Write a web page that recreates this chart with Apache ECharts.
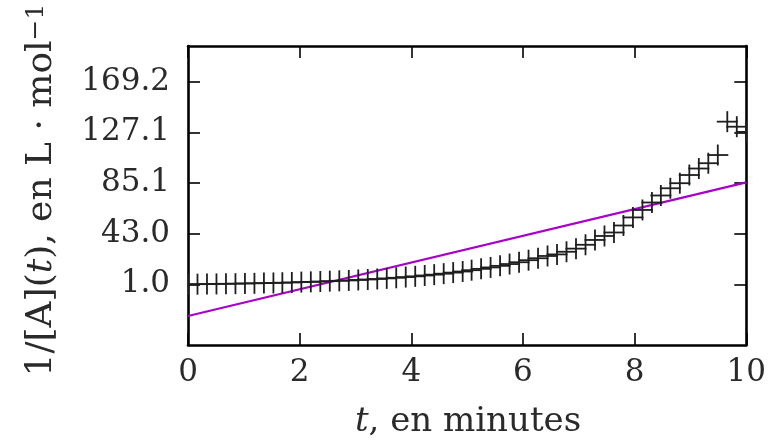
<!DOCTYPE html>
<html>
<head>
<meta charset="utf-8">
<script src="https://cdn.jsdelivr.net/npm/echarts@6/dist/echarts.min.js"></script>
<style>
  html, body { margin: 0; padding: 0; background: #fff; }
  #chart { width: 769px; height: 448px; }
</style>
</head>
<body>
<div id="chart"></div>
<script>
// Measured times (minutes)
const times = [
  0.00, 0.17, 0.34, 0.51, 0.68, 0.85, 1.02, 1.19, 1.36, 1.53,
  1.69, 1.86, 2.03, 2.20, 2.37, 2.54, 2.71, 2.88, 3.05, 3.22,
  3.39, 3.56, 3.73, 3.90, 4.07, 4.24, 4.41, 4.58, 4.75, 4.92,
  5.08, 5.25, 5.42, 5.59, 5.76, 5.93, 6.10, 6.27, 6.44, 6.61,
  6.78, 6.95, 7.12, 7.29, 7.46, 7.63, 7.80, 7.97, 8.14, 8.31,
  8.47, 8.64, 8.81, 8.98, 9.15, 9.32, 9.49, 9.66, 9.83, 10.00
];
// 1/[A](t) in L·mol^-1
const inverseConc = [
  1.0, 1.1, 1.2, 1.3, 1.4, 1.5, 1.7, 1.8, 2.0, 2.1,
  2.3, 2.5, 2.8, 3.0, 3.3, 3.6, 3.9, 4.2, 4.6, 5.0,
  5.4, 5.9, 6.4, 7.0, 7.6, 8.3, 9.0, 9.8, 10.7, 11.6,
  12.7, 13.8, 15.0, 16.3, 17.8, 19.3, 21.0, 22.6, 24.5, 25.8,
  28.0, 30.6, 33.8, 37.8, 41.1, 44.0, 49.8, 56.5, 62.7, 68.9,
  74.7, 80.7, 84.9, 91.7, 97.1, 101.5, 108.3, 136.0, 131.8, 127.5
];
// Linear fit endpoints
const fitTimes = [0, 10];
const fitValues = [-25.3, 85.6];
// Axis ticks
const xTicks = [0, 2, 4, 6, 8, 10];
const yTicks = [1.0, 43.0, 85.1, 127.1, 169.2];

const points = times.map((t, i) => [t, inverseConc[i]]);
const fitLine = fitTimes.map((t, i) => [t, fitValues[i]]);

const SERIF = '"DejaVu Serif", "Liberation Serif", serif';
const INK = '#2a2a2a';

const frameLine = { show: true, onZero: false, lineStyle: { color: '#000', width: 2.6 } };
const tickStyle = { show: true, inside: true, length: 12, lineStyle: { color: '#000', width: 1.6 } };

function xAxisDef(pos, showLabel) {
  return {
    type: 'value', position: pos, min: xTicks[0], max: xTicks[xTicks.length - 1], interval: 2,
    axisLine: frameLine, axisTick: tickStyle, splitLine: { show: false },
    axisLabel: {
      show: showLabel, margin: 12, color: INK, fontFamily: SERIF, fontSize: 31,
      formatter: v => String(v)
    }
  };
}
function yAxisDef(pos, showLabel) {
  return {
    type: 'value', position: pos, min: -49.4, max: 198.8,
    axisLine: frameLine,
    axisTick: Object.assign({}, tickStyle, { customValues: yTicks }),
    splitLine: { show: false },
    axisLabel: {
      show: showLabel, customValues: yTicks, margin: 18, color: INK,
      fontFamily: SERIF, fontSize: 31, formatter: v => v.toFixed(1)
    }
  };
}

const chart = echarts.init(document.getElementById('chart'), null, { renderer: 'canvas' });
chart.setOption({
  animation: false,
  backgroundColor: '#fff',
  grid: { left: 188, right: 22, top: 46, bottom: 103, containLabel: false },
  xAxis: [xAxisDef('bottom', true), xAxisDef('top', false)],
  yAxis: [yAxisDef('left', true), yAxisDef('right', false)],
  series: [
    {
      type: 'line',
      data: fitLine,
      symbol: 'none',
      lineStyle: { color: '#a800c8', width: 2.2 },
      z: 2
    },
    {
      type: 'custom',
      data: points,
      clip: true,
      encode: { x: 0, y: 1 },
      z: 3,
      renderItem: function (params, api) {
        const p = api.coord([api.value(0), api.value(1)]);
        const h = 10.5;
        const st = { stroke: '#1e1e1e', lineWidth: 1.8 };
        return {
          type: 'group',
          children: [
            { type: 'line', shape: { x1: p[0] - h, y1: p[1], x2: p[0] + h, y2: p[1] }, style: st },
            { type: 'line', shape: { x1: p[0], y1: p[1] - h, x2: p[0], y2: p[1] + h }, style: st }
          ]
        };
      }
    }
  ],
  graphic: [
    {
      type: 'text',
      x: 42, y: 190,
      rotation: Math.PI / 2,
      style: {
        text: '{r|1/[A](}{i|t}{r|), en L · mol}{s|−1}',
        align: 'center', verticalAlign: 'middle', fill: INK,
        rich: {
          r: { fontFamily: SERIF, fontSize: 36, fill: INK },
          i: { fontFamily: SERIF, fontSize: 36, fontStyle: 'italic', fill: INK },
          s: { fontFamily: SERIF, fontSize: 25, verticalAlign: 'top', fill: INK }
        }
      }
    },
    {
      type: 'text',
      x: 468, y: 422,
      style: {
        text: '{i|t}{r|, en minutes}',
        align: 'center', verticalAlign: 'middle', fill: INK,
        rich: {
          r: { fontFamily: SERIF, fontSize: 34, fill: INK },
          i: { fontFamily: SERIF, fontSize: 34, fontStyle: 'italic', fill: INK }
        }
      }
    }
  ]
});
</script>
</body>
</html>
